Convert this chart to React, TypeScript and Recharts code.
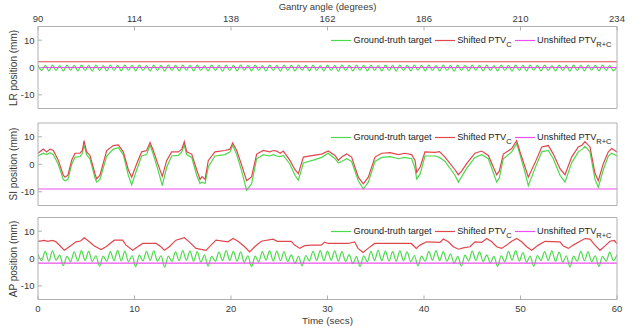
import React from 'react';
import { LineChart, Line, XAxis, YAxis, Legend } from 'recharts';

const timeTicks = [0, 10, 20, 30, 40, 50, 60];
const gantryTicks = [90, 114, 138, 162, 186, 210, 234];
const positionTicks = [-10, 0, 10];

const seriesNames = ['Ground-truth target', 'Shifted PTV', 'Unshifted PTV'];
const seriesSubscripts = ['', 'C', 'R+C'];
const seriesColors = ['#4cd94c', '#e0474c', '#ee4ff0'];

// fast (cardiac-like) oscillation, read as peak / trough every 0.375 s
const fastStep = 0.375;

// LR panel
const lrTarget = [
  0.9, -1.1, 0.8, -1.2, 0.9, -1.1, 0.7, -1.2, 0.9, -1.0,
  0.8, -1.2, 0.9, -1.1, 0.8, -1.3, 0.9, -1.1, 0.7, -1.2,
  0.9, -1.1, 0.8, -1.2, 0.9, -1.0, 0.8, -1.2, 0.9, -1.1,
  0.7, -1.2, 0.9, -1.1, 0.8, -1.3, 0.9, -1.1, 0.8, -1.2,
  0.9, -1.0, 0.8, -1.2, 0.9, -1.1, 0.7, -1.2, 0.9, -1.1,
  0.8, -1.3, 0.9, -1.1, 0.8, -1.2, 0.9, -1.0, 0.8, -1.2,
  0.9, -1.1, 0.7, -1.2, 0.9, -1.1, 0.8, -1.3, 0.9, -1.1,
  0.8, -1.2, 0.9, -1.0, 0.8, -1.2, 0.9, -1.1, 0.7, -1.2,
  0.9, -1.1, 0.8, -1.3, 0.9, -1.1, 0.8, -1.2, 0.9, -1.0,
  0.8, -1.2, 0.9, -1.1, 0.7, -1.2, 0.9, -1.1, 0.8, -1.3,
  0.9, -1.1, 0.8, -1.2, 0.9, -1.0, 0.8, -1.2, 0.9, -1.1,
  0.7, -1.2, 0.9, -1.1, 0.8, -1.3, 0.9, -1.1, 0.8, -1.2,
  0.9, -1.0, 0.8, -1.2, 0.9, -1.1, 0.7, -1.2, 0.9, -1.1,
  0.8, -1.3, 0.9, -1.1, 0.8, -1.2, 0.9, -1.0, 0.8, -1.2,
  0.9, -1.1, 0.7, -1.2, 0.9, -1.1, 0.8, -1.3, 0.9, -1.1,
  0.8, -1.2, 0.9, -1.0, 0.8, -1.2, 0.9, -1.1, 0.7, -1.2,
  0.3,
];
const lrShifted = 2.1;
const lrUnshifted = 0;

// SI panel (breathing trace)
const siTime = [
  0, 0.55, 0.9, 1.24, 1.59, 2.1, 2.62, 2.8, 3.1, 3.49,
  3.83, 4.35, 4.6, 4.77, 5.04, 5.39, 5.91, 6.08, 6.42, 7.12,
  7.8, 8.32, 8.84, 9.36, 9.71, 10.23, 10.74, 11.26, 11.61, 11.95,
  12.47, 12.88, 13.34, 13.85, 14.54, 14.9, 15.16, 15.41, 15.93, 16.44,
  16.79, 17.0, 17.31, 17.65, 18.34, 19.38, 19.9, 20.17, 20.59, 21.11,
  21.62, 22.14, 22.66, 23.35, 24.0, 24.4, 24.73, 25.1, 25.42, 26.11,
  26.63, 26.98, 27.5, 28.53, 29.4, 30.08, 30.78, 31.12, 31.47, 31.99,
  32.5, 33.19, 33.71, 34.23, 34.92, 35.62, 36.5, 37.34, 38.0, 38.72,
  39.07, 39.24, 39.6, 40.1, 41.14, 41.6, 42.18, 43.21, 43.56, 43.9,
  44.42, 45.28, 45.98, 46.67, 47.18, 47.53, 47.8, 48.22, 49.09, 49.6,
  49.95, 50.47, 50.81, 51.5, 52.2, 52.88, 53.4, 54.09, 54.61, 55.3,
  55.99, 56.4, 56.68, 57.2, 57.72, 58.06, 58.58, 59.1, 59.45, 60,
];
const siShifted = [
  4.0, 5.5, 4.5, 5.5, 5.0, 1.5, -4.0, -4.7, -4.0, 1.5,
  4.0, 4.0, 5.0, 8.6, 4.5, 3.2, -3.5, -5.3, -4.0, 5.0,
  6.8, 7.0, 4.5, -2.0, -4.7, 0.2, 4.5, 5.0, 7.9, 5.0,
  -0.4, -4.4, 1.4, 4.5, 4.5, 5.5, 8.2, 4.5, 3.7, -2.0,
  -5.5, -4.5, -5.5, 1.4, 4.5, 5.0, 5.5, 7.8, 5.0, -0.4,
  -6.0, -4.5, 3.7, 5.0, 4.5, 5.0, 4.8, 4.0, 4.8, 1.4,
  -2.0, -3.4, 2.6, 3.2, 3.7, 4.8, 3.2, 1.4, 2.6, 3.7,
  2.6, -4.7, -7.1, -4.7, 2.6, 4.0, 4.2, 3.5, 4.0, 3.5,
  1.4, -2.9, -1.0, 4.5, 4.3, 4.6, 2.6, -2.0, -3.8, -2.5,
  0.2, 4.0, 4.8, 3.2, -1.0, -3.8, -2.5, 3.7, 5.7, 8.6,
  4.5, -1.0, -4.7, 0.5, 6.3, 6.8, 3.7, -1.6, -3.8, 2.6,
  6.3, 7.0, 8.2, 6.3, -3.3, -6.0, 0.2, 4.5, 5.7, 4.5,
];
const siTarget = [
  3.0, 4.0, 3.5, 4.2, 3.5, 0.0, -5.5, -6.0, -5.5, 0.0,
  2.5, 2.8, 4.0, 7.0, 3.5, 2.0, -5.0, -6.5, -5.5, 3.0,
  5.5, 6.0, 3.5, -4.0, -7.5, -2.0, 3.0, 3.5, 7.0, 3.5,
  -2.5, -7.8, -1.0, 3.0, 3.2, 4.5, 7.0, 3.5, 2.5, -4.0,
  -7.0, -6.5, -7.0, -1.0, 3.0, 3.5, 4.5, 7.0, 3.5, -2.5,
  -9.5, -7.0, 2.0, 3.5, 3.0, 3.5, 3.0, 2.8, 3.2, 0.0,
  -4.0, -5.8, 0.5, 1.5, 2.5, 4.0, 2.0, 0.5, 1.0, 2.0,
  1.0, -6.0, -9.0, -6.5, 1.0, 2.5, 2.8, 2.0, 2.5, 2.0,
  -1.5, -5.3, -3.5, 3.0, 3.0, 2.5, 1.0, -4.0, -6.5, -4.5,
  -1.5, 2.5, 3.5, 2.0, -3.0, -6.5, -5.0, 2.0, 4.5, 7.5,
  3.5, -3.0, -7.8, -1.5, 4.5, 5.0, 2.0, -4.0, -6.5, 0.5,
  4.5, 5.5, 6.5, 4.5, -5.5, -8.4, -2.0, 3.0, 4.0, 3.0,
];
const siUnshifted = -9;

// AP panel
const apTarget = [
  1.5, -0.8, 2.6, -1.0, 2.8, -0.6, 1.2, -2.6, 0.8, -1.2,
  2.4, -0.9, 2.9, -0.7, 2.6, -1.1, 1.0, -2.8, 0.9, -1.0,
  2.5, -0.8, 3.0, -0.9, 2.7, -1.2, 1.1, -3.0, 1.2, -0.9,
  2.6, -0.7, 2.8, -1.0, 1.0, -3.2, 0.9, -1.1, 2.4, -0.8,
  2.9, -0.6, 2.7, -1.0, 2.5, -1.3, 1.2, -2.8, 0.8, -1.0,
  2.3, -0.8, 2.9, -0.7, 2.6, -1.0, 2.4, -1.4, 1.0, -3.0,
  0.9, -1.2, 2.5, -0.6, 2.8, -0.9, 2.7, -0.8, 2.4, -1.1,
  1.3, -1.8, 0.8, -2.7, 1.1, -0.9, 2.6, -0.7, 2.9, -0.8,
  2.7, -0.6, 2.8, -1.0, 2.5, -1.1, 1.4, -1.9, 0.7, -2.9,
  1.0, -1.2, 2.6, -0.7, 3.0, -0.8, 2.7, -0.9, 2.5, -1.0,
  2.8, -0.8, 2.4, -1.2, 1.1, -2.7, 0.9, -1.0, 2.6, -0.6,
  2.9, -0.8, 2.5, -1.0, 1.6, -1.7, 0.8, -2.8, 1.2, -0.9,
  2.7, -0.7, 2.4, -1.1, 1.3, -1.6, 0.8, -2.9, 1.0, -1.2,
  2.6, -0.6, 2.9, -0.9, 2.2, -1.4, 0.9, -2.8, 1.1, -0.8,
  2.5, -0.7, 2.8, -1.0, 2.3, -1.3, 1.0, -3.1, 0.9, -1.0,
  2.6, -0.8, 2.4, -1.2, 1.0, -2.9, 0.8, -1.0, 2.3, -0.7,
  1.4,
];
const apTime = [
  0, 0.66, 1.0, 1.52, 1.87, 2.38, 2.73, 3.25, 3.94, 4.4,
  4.8, 5.32, 5.84, 6.53, 7.05, 7.91, 8.77, 9.12, 9.81, 10.33,
  10.85, 12.23, 12.75, 13.09, 13.61, 14.3, 15.16, 15.68, 16.37, 17.41,
  17.93, 18.45, 19.69, 20.21, 20.73, 21.42, 21.93, 22.45, 23.14, 24.35,
  24.8, 26.25, 26.6, 27.12, 27.63, 28.32, 29.36, 29.7, 30.05, 30.4,
  32.12, 32.82, 33.16, 33.68, 34.2, 34.89, 38.69, 39.2, 39.59, 40.28,
  41.66, 42.0, 42.52, 43.04, 43.56, 44.07, 44.77, 45.28, 45.98, 46.5,
  47.02, 47.53, 48.05, 48.57, 49.09, 49.6, 50.12, 50.64, 51.16, 51.85,
  52.54, 54.09, 54.44, 54.96, 55.47, 56.17, 56.68, 57.2, 57.72, 58.24,
  58.76, 59.27, 59.7, 60,
];
const apShifted = [
  6.3, 6.6, 6.3, 6.6, 6.1, 4.3, 3.0, 4.3, 6.1, 6.4,
  7.6, 6.1, 4.6, 3.3, 4.3, 6.7, 6.7, 4.9, 3.0, 4.3,
  5.5, 5.5, 4.3, 3.0, 4.3, 6.7, 7.6, 6.1, 3.7, 3.0,
  4.9, 6.7, 6.1, 7.3, 6.3, 4.3, 2.4, 4.3, 6.3, 7.1,
  6.3, 6.3, 4.9, 3.7, 4.7, 4.9, 4.9, 6.0, 5.5, 5.5,
  5.5, 6.1, 3.7, 2.2, 3.7, 5.5, 5.5, 3.7, 4.9, 6.1,
  5.9, 7.1, 6.1, 4.3, 3.4, 3.9, 4.3, 6.1, 5.9, 7.3,
  6.1, 4.3, 3.7, 4.9, 6.3, 7.3, 6.1, 4.3, 3.0, 4.9,
  6.3, 6.1, 4.6, 3.7, 4.9, 6.3, 7.3, 7.1, 4.9, 3.0,
  4.6, 6.3, 6.6, 5.5,
];
const apUnshifted = -1.7;

type Pt = { t: number; v: number };
const zipSeries = (ts: number[], vs: number[]): Pt[] => ts.map((t, i) => ({ t, v: vs[i] }));
const stepSeries = (vs: number[], step: number): Pt[] => vs.map((v, i) => ({ t: i * step, v }));
const flatSeries = (v: number): Pt[] => [{ t: 0, v }, { t: 60, v }];

const AXIS_COLOR = '#b0b0b0';
const TEXT_COLOR = '#3a3a3a';
const FONT = '"Liberation Sans", Arial, Helvetica, sans-serif';
const WIDTH = 635;
const LEFT = 38;
const RIGHT = 18;
// axes get a 1px band (a 0px axis is not drawn by recharts)
const AXIS_BAND = 1;

const LegendContent = ({ payload }: any) => (
  <div style={{ display: 'flex', alignItems: 'center', fontSize: 9.2, lineHeight: '11px', color: '#222', whiteSpace: 'nowrap' }}>
    {(payload || []).map((p: any) => {
      const idx = seriesNames.indexOf(p.value);
      return (
        <div key={p.value} style={{ display: 'flex', alignItems: 'center', marginRight: 3 }}>
          <svg width={20} height={11}>
            <line x1={0} x2={20} y1={5.5} y2={5.5} stroke={p.color} strokeWidth={1.2} />
          </svg>
          <span style={{ marginLeft: 2.5 }}>
            {p.value}
            {seriesSubscripts[idx] ? (
              <span style={{ fontSize: 7.5, position: 'relative', top: 4 }}>{seriesSubscripts[idx]}</span>
            ) : null}
          </span>
        </div>
      );
    })}
  </div>
);

interface PanelProps {
  top: number;
  height: number;
  marginTop: number;
  marginBottom: number;
  label: string;
  target: Pt[];
  shifted: Pt[];
  unshifted: Pt[];
  smoothTarget?: boolean;
  gantry?: boolean;
  timeLabels?: boolean;
}

const Panel = ({ top, height, marginTop, marginBottom, label, target, shifted, unshifted, smoothTarget, gantry, timeLabels }: PanelProps) => {
  const plotH = height - marginTop - marginBottom;
  const tickStyle = { fontSize: 9.5, fill: TEXT_COLOR };
  return (
    <div style={{ position: 'absolute', left: 0, top, width: WIDTH, height }}>
      <LineChart
        width={WIDTH}
        height={height}
        margin={{
          top: marginTop - AXIS_BAND,
          bottom: marginBottom - AXIS_BAND,
          left: LEFT - AXIS_BAND,
          right: RIGHT - AXIS_BAND,
        }}
      >
        <XAxis
          xAxisId="b"
          type="number"
          dataKey="t"
          domain={[0, 60]}
          allowDataOverflow
          ticks={timeTicks}
          interval={0}
          height={AXIS_BAND}
          tickSize={-4}
          tickMargin={10}
          stroke={AXIS_COLOR}
          tickLine={{ stroke: AXIS_COLOR }}
          tick={timeLabels ? tickStyle : false}
          label={timeLabels ? { value: 'Time (secs)', position: 'bottom', offset: 16.8, fill: TEXT_COLOR, fontSize: 9.8 } : undefined}
        />
        <XAxis
          xAxisId="t"
          orientation="top"
          type="number"
          dataKey="t"
          domain={[0, 60]}
          allowDataOverflow
          ticks={timeTicks}
          interval={0}
          height={AXIS_BAND}
          tickSize={-4}
          tickMargin={8.8}
          stroke={AXIS_COLOR}
          tickLine={{ stroke: AXIS_COLOR }}
          tick={gantry ? tickStyle : false}
          tickFormatter={(_v: number, i: number) => String(gantryTicks[i])}
          label={gantry ? { value: 'Gantry angle (degrees)', position: 'top', offset: 15.5, fill: TEXT_COLOR, fontSize: 9.5 } : undefined}
        />
        <YAxis
          yAxisId="l"
          type="number"
          domain={[-15, 15]}
          allowDataOverflow
          ticks={positionTicks}
          interval={0}
          width={AXIS_BAND}
          tickSize={-4}
          tickMargin={7.5}
          stroke={AXIS_COLOR}
          tickLine={{ stroke: AXIS_COLOR }}
          tick={tickStyle}
        />
        <YAxis
          yAxisId="r"
          orientation="right"
          type="number"
          domain={[-15, 15]}
          allowDataOverflow
          ticks={positionTicks}
          interval={0}
          width={AXIS_BAND}
          tickSize={-4}
          stroke={AXIS_COLOR}
          tickLine={{ stroke: AXIS_COLOR }}
          tick={false}
        />
        <Line
          xAxisId="b"
          yAxisId="l"
          data={target}
          dataKey="v"
          name={seriesNames[0]}
          type={smoothTarget ? 'monotone' : 'linear'}
          stroke={seriesColors[0]}
          strokeWidth={1.2}
          dot={false}
          activeDot={false}
          isAnimationActive={false}
        />
        <Line
          xAxisId="b"
          yAxisId="l"
          data={shifted}
          dataKey="v"
          name={seriesNames[1]}
          type="linear"
          stroke={seriesColors[1]}
          strokeWidth={1.2}
          dot={false}
          activeDot={false}
          isAnimationActive={false}
        />
        <Line
          xAxisId="t"
          yAxisId="r"
          data={unshifted}
          dataKey="v"
          name={seriesNames[2]}
          type="linear"
          stroke={seriesColors[2]}
          strokeWidth={1.2}
          dot={false}
          activeDot={false}
          isAnimationActive={false}
        />
        <Legend
          layout="horizontal"
          verticalAlign="middle"
          align="center"
          content={<LegendContent />}
          wrapperStyle={{ top: marginTop + 8.5, left: 331, width: 290, height: 12 }}
        />
      </LineChart>
      <div
        style={{
          position: 'absolute',
          left: 14 - 60,
          top: marginTop + plotH / 2 - 7,
          width: 120,
          height: 14,
          lineHeight: '14px',
          textAlign: 'center',
          fontSize: 10,
          color: TEXT_COLOR,
          transform: 'rotate(-90deg)',
          whiteSpace: 'nowrap',
        }}
      >
        {label}
      </div>
    </div>
  );
};

export default function App() {
  return (
    <div style={{ position: 'absolute', left: 0, top: 0, width: WIDTH, height: 328, background: '#fff', fontFamily: FONT, overflow: 'hidden' }}>
      <Panel
        top={0}
        height={112}
        marginTop={26.5}
        marginBottom={3.5}
        label="LR position (mm)"
        target={stepSeries(lrTarget, fastStep)}
        shifted={flatSeries(lrShifted)}
        unshifted={flatSeries(lrUnshifted)}
        smoothTarget
        gantry
      />
      <Panel
        top={112}
        height={98}
        marginTop={11}
        marginBottom={4.5}
        label="SI position (mm)"
        target={zipSeries(siTime, siTarget)}
        shifted={zipSeries(siTime, siShifted)}
        unshifted={flatSeries(siUnshifted)}
      />
      <Panel
        top={210}
        height={118}
        marginTop={7.5}
        marginBottom={28.5}
        label="AP position (mm)"
        target={stepSeries(apTarget, fastStep)}
        shifted={zipSeries(apTime, apShifted)}
        unshifted={flatSeries(apUnshifted)}
        smoothTarget
        timeLabels
      />
    </div>
  );
}
